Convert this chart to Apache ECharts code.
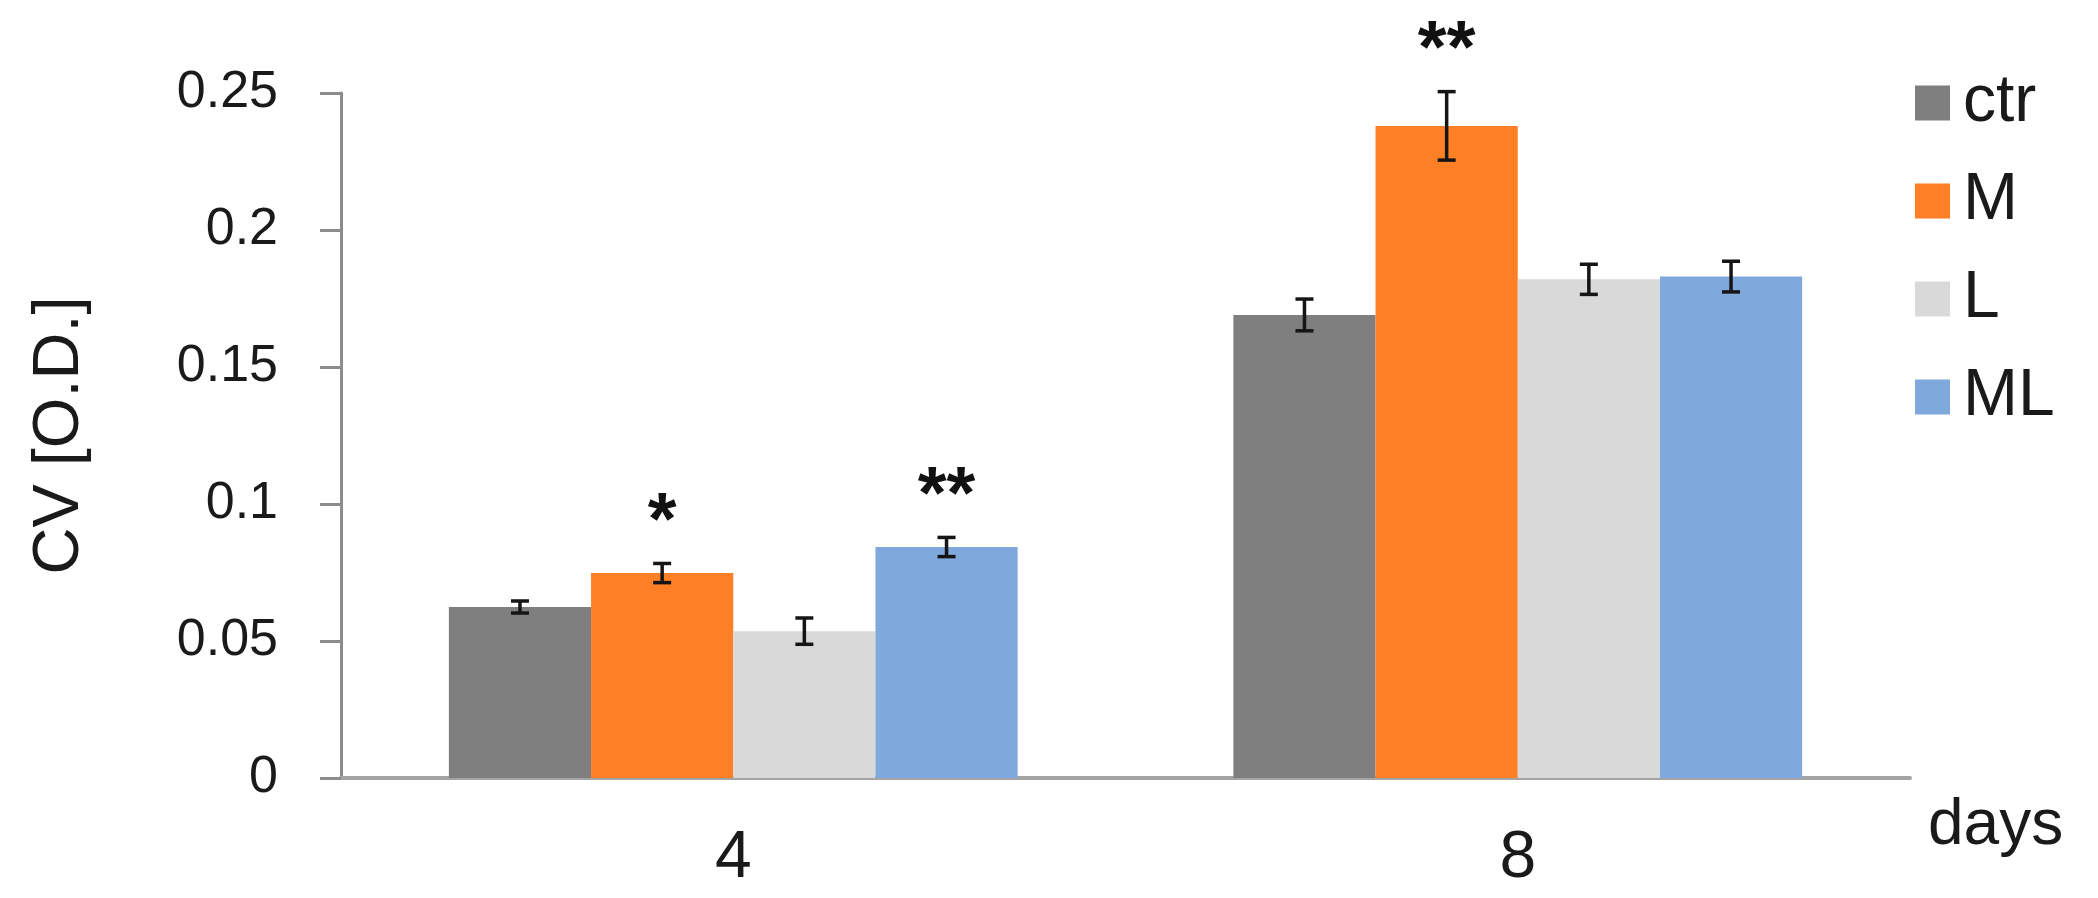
<!DOCTYPE html>
<html>
<head>
<meta charset="utf-8">
<script src="https://cdn.jsdelivr.net/npm/echarts@6/dist/echarts.min.js"></script>
<style>
	html, body { margin: 0; padding: 0; background: #fff; }
	#main { width: 2098px; height: 898px; }
</style>
</head>
<body>
<div id="main"></div>
<script>
const days = ["4", "8"];
const groups = ["ctr", "M", "L", "ML"];
const colors = ["#7f7f7f", "#ff7f27", "#d9d9d9", "#7fa8dc"];

const ctr = [0.0624, 0.169];
const m = [0.0748, 0.238];
const l = [0.0536, 0.182];
const ml = [0.0843, 0.183];

const ctrErr = [0.0022, 0.0058];
const mErr = [0.0035, 0.0125];
const lErr = [0.0048, 0.0055];
const mlErr = [0.0035, 0.0056];

// significance marks per group, per day
const ctrSig = ["", ""];
const mSig = ["*", "**"];
const lSig = ["", ""];
const mlSig = ["**", ""];

const means = [ctr, m, l, ml];
const errs = [ctrErr, mErr, lErr, mlErr];
const sigs = [ctrSig, mSig, lSig, mlSig];

const catGap = 0.275;
const font = "'Liberation Sans', Arial, sans-serif";

let errData = [];
means.forEach((vals, s) => {
	vals.forEach((v, i) => {
		errData.push([i, s, v, errs[s][i], sigs[s][i]]);
	});
});

function renderError(params, api) {
	const cat = api.value(0);
	const s = api.value(1);
	const mean = api.value(2);
	const err = api.value(3);
	const sig = errData[params.dataIndex][4];
	const catW = api.size([1, 0])[0];
	const barW = catW * (1 - catGap) / 4;
	const x = api.coord([cat, mean])[0] + (s - 1.5) * barW;
	const top = api.coord([cat, mean + err])[1];
	const bot = api.coord([cat, mean - err])[1];
	const cap = 9;
	const style = { stroke: "#151515", lineWidth: 3.5 };
	const children = [
		{ type: "line", shape: { x1: x, y1: top, x2: x, y2: bot }, style: style },
		{ type: "line", shape: { x1: x - cap, y1: top, x2: x + cap, y2: top }, style: style },
		{ type: "line", shape: { x1: x - cap, y1: bot, x2: x + cap, y2: bot }, style: style },
	];
	if (sig) {
		children.push({
			type: "text",
			style: {
				text: sig,
				x: x,
				y: top - 40,
				align: "center",
				verticalAlign: "middle",
				fontSize: 74,
				fontWeight: "bold",
				fontFamily: font,
				fill: "#111",
			},
		});
	}
	return { type: "group", children: children };
}

let series = groups.map((name, s) => ({
	name: name,
	type: "bar",
	data: means[s],
	barGap: "0%",
	barCategoryGap: catGap * 100 + "%",
	itemStyle: { color: colors[s] },
}));

series.push({
	type: "custom",
	renderItem: renderError,
	data: errData,
	encode: { x: 0, y: 2 },
	z: 10,
	silent: true,
});

let myChart = echarts.init(document.getElementById("main"));

myChart.setOption({
	animation: false,
	textStyle: { fontFamily: font },
	grid: { left: 341, right: 188, top: 93, bottom: 120 },
	legend: {
		data: groups,
		orient: "vertical",
		left: 1910,
		top: 65,
		icon: "rect",
		itemWidth: 35,
		itemHeight: 35,
		itemGap: 32,
		textStyle: { fontSize: 66, color: "#1a1a1a", fontFamily: font, padding: [0, 0, 0, 8] },
	},
	xAxis: {
		type: "category",
		data: days,
		name: "days",
		nameLocation: "end",
		nameGap: 18,
		nameTextStyle: {
			fontSize: 64,
			color: "#1a1a1a",
			align: "left",
			verticalAlign: "top",
			padding: [16, 0, 0, 0],
		},
		axisLine: { lineStyle: { color: "#a4a4a4", width: 4 } },
		axisTick: { length: 22, lineStyle: { color: "#a4a4a4", width: 3 } },
		axisLabel: { fontSize: 66, color: "#1a1a1a", margin: 48 },
	},
	yAxis: {
		type: "value",
		min: 0,
		max: 0.25,
		interval: 0.05,
		name: "CV [O.D.]",
		nameLocation: "middle",
		nameGap: 248,
		nameTextStyle: { fontSize: 65, color: "#1a1a1a" },
		axisLine: { show: true, lineStyle: { color: "#8c8c8c", width: 3 } },
		axisTick: { show: true, length: 21, lineStyle: { color: "#8c8c8c", width: 3 } },
		axisLabel: { fontSize: 52, color: "#1a1a1a", margin: 63 },
		splitLine: { show: false },
	},
	series: series,
});
</script>
</body>
</html>
